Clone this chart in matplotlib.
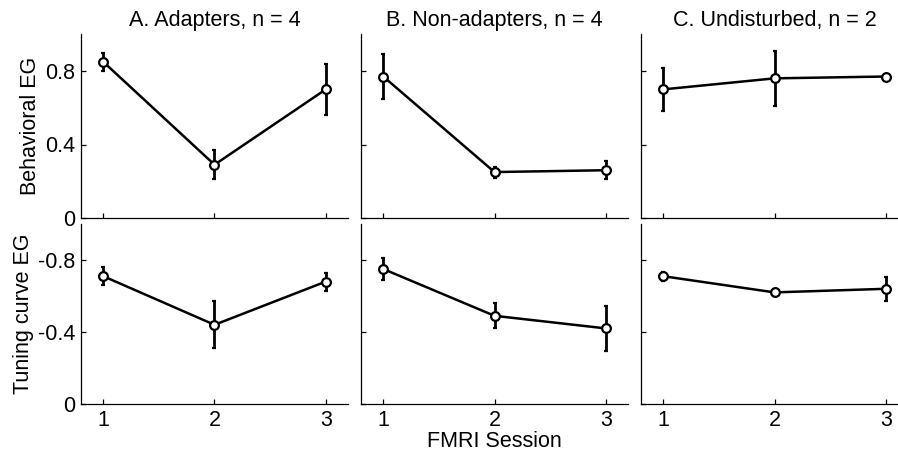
import matplotlib
matplotlib.use("Agg")
import matplotlib.pyplot as plt

plt.rcParams['font.family'] = ['Liberation Sans', 'DejaVu Sans']

sessions = [1, 2, 3]
titles = ["A. Adapters, n = 4", "B. Non-adapters, n = 4", "C. Undisturbed, n = 2"]

# Behavioral EG (mean, error) per group
behav_mean = [[0.85, 0.29, 0.70],
              [0.77, 0.25, 0.26],
              [0.70, 0.76, 0.77]]
behav_err = [[0.05, 0.08, 0.14],
             [0.125, 0.03, 0.05],
             [0.115, 0.15, 0.01]]

# Tuning curve EG (mean, error) per group
tune_mean = [[-0.71, -0.44, -0.68],
             [-0.75, -0.49, -0.42],
             [-0.71, -0.62, -0.64]]
tune_err = [[0.05, 0.13, 0.05],
            [0.06, 0.07, 0.125],
            [0.025, 0.02, 0.065]]

behav_ticks = [0, 0.4, 0.8]
behav_ticklabels = ["0", "0.4", "0.8"]
tune_ticks = [0, -0.4, -0.8]
tune_ticklabels = ["0", "-0.4", "-0.8"]

FS = 15.5
W, H = 898, 453
fig = plt.figure(figsize=(W / 100, H / 100), dpi=100)

lefts = [81, 361, 641]
ax_w = 267
top_row = (34.25, 218)   # pixel top, bottom
bot_row = (224, 404)


def make_ax(left, top, bottom):
    return fig.add_axes([left / W, 1 - bottom / H, ax_w / W, (bottom - top) / H])


def style(ax):
    for s in ("top", "right"):
        ax.spines[s].set_visible(False)
    for s in ("left", "bottom"):
        ax.spines[s].set_linewidth(0.9)
    ax.tick_params(direction="in", length=3.5, width=0.9, labelsize=FS, pad=4)
    ax.set_xlim(0.8, 3.2)
    ax.set_xticks(sessions)


def draw(ax, m, e):
    ax.errorbar(sessions, m, yerr=e, color="black", lw=1.8, elinewidth=2.0,
                capsize=1.5, capthick=2.0, marker="o", ms=6.3, mfc="white",
                mec="black", mew=1.6, zorder=3)


for i in range(3):
    ax = make_ax(lefts[i], *top_row)
    style(ax)
    draw(ax, behav_mean[i], behav_err[i])
    ax.set_ylim(0, 1.0)
    ax.set_yticks(behav_ticks)
    ax.set_xticklabels([])
    ax.set_title(titles[i], fontsize=FS, pad=6)
    if i == 0:
        ax.set_yticklabels(behav_ticklabels)
        ax.set_ylabel("Behavioral EG", fontsize=FS, labelpad=3)
    else:
        ax.set_yticklabels([])

    ax2 = make_ax(lefts[i], *bot_row)
    style(ax2)
    draw(ax2, tune_mean[i], tune_err[i])
    ax2.set_ylim(0, -1.0)
    ax2.set_yticks(tune_ticks)
    ax2.set_xticklabels([str(s) for s in sessions])
    if i == 0:
        ax2.set_yticklabels(tune_ticklabels)
        ax2.set_ylabel("Tuning curve EG", fontsize=FS, labelpad=3)
    else:
        ax2.set_yticklabels([])
    if i == 1:
        ax2.set_xlabel("FMRI Session", fontsize=FS, labelpad=0.5)

fig.savefig("out.png", dpi=100)
